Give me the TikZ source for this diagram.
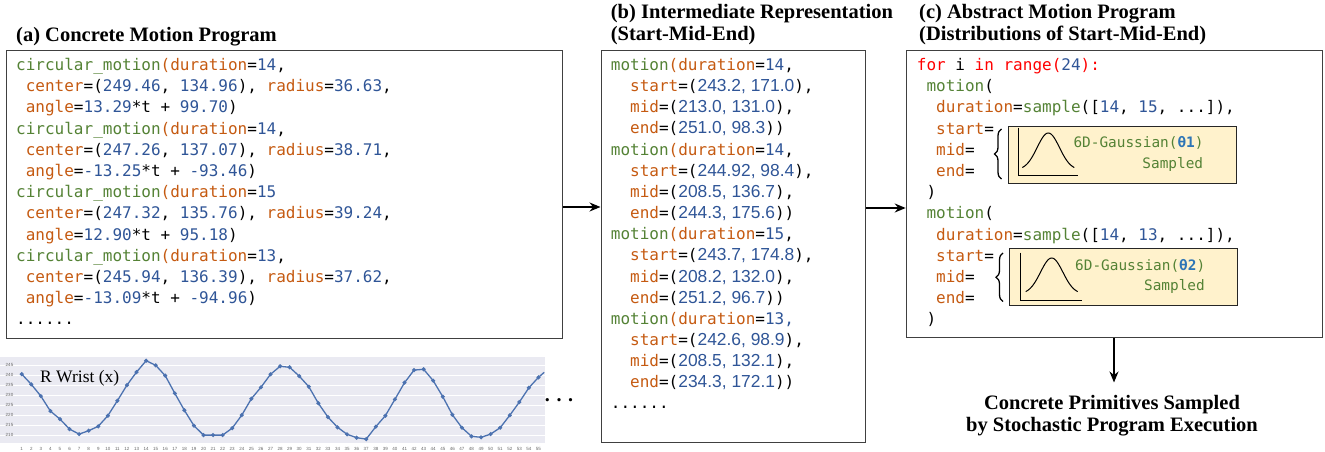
\documentclass[tikz,border=0pt]{standalone}
\usepackage{fontspec}
\setmainfont{Liberation Serif}
\newfontfamily\codefont{DejaVu Sans Mono}
\newfontfamily\numfont{Liberation Sans}
\newfontfamily\tickfont{Liberation Sans}
\usetikzlibrary{arrows.meta,decorations.pathreplacing,calc}
\definecolor{cfn}{HTML}{548235}
\definecolor{ckw}{HTML}{C55A11}
\definecolor{cnum}{HTML}{2F5597}
\definecolor{cred}{HTML}{FF0000}
\definecolor{ctheta}{HTML}{2E75B6}
\definecolor{cybox}{HTML}{FFF2CC}
\definecolor{cplotbg}{HTML}{EAEAF2}
\definecolor{cline}{HTML}{4C72B0}
\newcommand\Fn[1]{\textcolor{cfn}{#1}}
\newcommand\Kw[1]{\textcolor{ckw}{#1}}
\newcommand\Nm[1]{\textcolor{cnum}{#1}}
\newcommand\Rd[1]{\textcolor{cred}{#1}}
\newcommand\Sn[1]{\textcolor{cnum}{\numfont\fontsize{17.4}{19}\selectfont #1}}
\newcommand\ind{\hphantom{x}}
\tikzset{
  code/.style={anchor=base west, inner sep=0pt, font=\codefont\fontsize{16}{19}\selectfont},
  small/.style={inner sep=0pt, font=\codefont\fontsize{14.4}{17}\selectfont, text=cfn},
  box/.style={draw=black!75, line width=1.2pt, inner sep=0pt, anchor=north west},
  ybox/.style={draw=black!85, fill=cybox, line width=1pt, inner sep=0pt, anchor=north west},
  ttl/.style={inner sep=0pt, font=\bfseries\fontsize{20.5}{23}\selectfont},
  tick/.style={inner sep=0pt, font=\tickfont\fontsize{4.5}{5}\selectfont, text=black!60},
  arr/.style={-{Stealth[length=11pt,width=9pt]}, line width=1.6pt},
  bracestyle/.style={decorate, decoration={brace, amplitude=7pt}, line width=1.3pt},
}
\begin{document}
\begin{tikzpicture}[x=1pt,y=-1pt]
\useasboundingbox (0,0) rectangle (1325,452);

% ---------- titles
\node[ttl, anchor=base west] (ta) at (16,42) {(a) Concrete Motion Program};
\node[ttl, anchor=base west] (tb1) at (610.7,18.5) {(b) Intermediate Representation};
\node[ttl, anchor=base west] (tb2) at (610.7,40.5) {(Start-Mid-End)};
\node[ttl, anchor=base west] (tc1) at (919,18.5) {(c) Abstract Motion Program};
\node[ttl, anchor=base west] (tc2) at (919,40.5) {(Distributions of Start-Mid-End)};

% ---------- boxes
\node[box, minimum width=556pt, minimum height=287.5pt] (boxA) at (6,50) {};
\node[box, minimum width=264.5pt, minimum height=391.7pt] (boxB) at (600.5,50) {};
\node[box, minimum width=416pt, minimum height=286.7pt] (boxC) at (905.7,50) {};

% ---------- (a) code
\node[code] (a1) at (16,70.5) {\Fn{circular\_motion}\Kw{(duration}=\Nm{14},};
\node[code] (a2) at (16,91.7) {\ind\Kw{center}=(\Nm{249.46}, \Nm{134.96}), \Kw{radius}=\Nm{36.63},};
\node[code] (a3) at (16,112.9) {\ind\Kw{angle}=\Nm{13.29}*t + \Nm{99.70})};
\node[code] (a4) at (16,134.1) {\Fn{circular\_motion}\Kw{(duration}=\Nm{14},};
\node[code] (a5) at (16,155.3) {\ind\Kw{center}=(\Nm{247.26}, \Nm{137.07}), \Kw{radius}=\Nm{38.71},};
\node[code] (a6) at (16,176.5) {\ind\Kw{angle}=\Nm{-13.25}*t + \Nm{-93.46})};
\node[code] (a7) at (16,197.7) {\Fn{circular\_motion}\Kw{(duration}=\Nm{15}};
\node[code] (a8) at (16,218.9) {\ind\Kw{center}=(\Nm{247.32}, \Nm{135.76}), \Kw{radius}=\Nm{39.24},};
\node[code] (a9) at (16,240.1) {\ind\Kw{angle}=\Nm{12.90}*t + \Nm{95.18})};
\node[code] (a10) at (16,261.3) {\Fn{circular\_motion}\Kw{(duration}=\Nm{13},};
\node[code] (a11) at (16,282.5) {\ind\Kw{center}=(\Nm{245.94}, \Nm{136.39}), \Kw{radius}=\Nm{37.62},};
\node[code] (a12) at (16,303.7) {\ind\Kw{angle}=\Nm{-13.09}*t + \Nm{-94.96})};
\node[code] (a13) at (16,324.9) {......};

% ---------- (b) code
\node[code] (b1) at (610.7,70.5) {\Fn{motion}\Kw{(duration}=\Nm{14},};
\node[code] (b2) at (610.7,91.65) {\ind\ind\Kw{start}=(\Sn{243.2, 171.0}),};
\node[code] (b3) at (610.7,112.8) {\ind\ind\Kw{mid}=(\Sn{213.0, 131.0}),};
\node[code] (b4) at (610.7,133.95) {\ind\ind\Kw{end}=(\Sn{251.0, 98.3}))};
\node[code] (b5) at (610.7,155.1) {\Fn{motion}\Kw{(duration}=\Nm{14},};
\node[code] (b6) at (610.7,176.25) {\ind\ind\Kw{start}=(\Sn{244.92, 98.4}),};
\node[code] (b7) at (610.7,197.4) {\ind\ind\Kw{mid}=(\Sn{208.5, 136.7}),};
\node[code] (b8) at (610.7,218.55) {\ind\ind\Kw{end}=(\Sn{244.3, 175.6}))};
\node[code] (b9) at (610.7,239.7) {\Fn{motion}\Kw{(duration}=\Nm{15},};
\node[code] (b10) at (610.7,260.85) {\ind\ind\Kw{start}=(\Sn{243.7, 174.8}),};
\node[code] (b11) at (610.7,282) {\ind\ind\Kw{mid}=(\Sn{208.2, 132.0}),};
\node[code] (b12) at (610.7,303.15) {\ind\ind\Kw{end}=(\Sn{251.2, 96.7}))};
\node[code] (b13) at (610.7,324.3) {\Fn{motion}\Kw{(duration}=\Nm{13,}};
\node[code] (b14) at (610.7,345.45) {\ind\ind\Kw{start}=(\Sn{242.6, 98.9}),};
\node[code] (b15) at (610.7,366.6) {\ind\ind\Kw{mid}=(\Sn{208.5, 132.1}),};
\node[code] (b16) at (610.7,387.75) {\ind\ind\Kw{end}=(\Sn{234.3, 172.1}))};
\node[code] (b17) at (610.7,408.4) {......};

% ---------- (c) yellow boxes with gaussians
\node[ybox, minimum width=228.4pt, minimum height=57pt] (y1) at (1007.5,125.7) {};
\node[ybox, minimum width=228.4pt, minimum height=57pt] (y2) at (1008.8,248.3) {};
\draw[line width=1pt] (1018.3,127.7) -- (1018.3,175.7) -- (1078.3,175.7);
\draw[line width=1pt] plot[domain=-26:26, samples=61, smooth] ({1048.3+\x},{170-37*exp(-(\x*\x)/250)});
\draw[line width=1pt] (1020.7,252.7) -- (1020.7,300) -- (1081.7,300);
\draw[line width=1pt] plot[domain=-26:26, samples=61, smooth] ({1051.7+\x},{294-36*exp(-(\x*\x)/250)});
\node[small, anchor=base west] (g1) at (1073.3,147.5) {6D-Gaussian(\textcolor{ctheta}{\bfseries θ1})};
\node[small, anchor=base east] (s1) at (1203.3,168) {Sampled};
\node[small, anchor=base west] (g2) at (1075,270.8) {6D-Gaussian(\textcolor{ctheta}{\bfseries θ2})};
\node[small, anchor=base east] (s2) at (1205,290.5) {Sampled};
\draw[bracestyle] (1001.5,179) -- (1001.5,129);
\draw[bracestyle] (1003,301.5) -- (1003,253);

% ---------- (c) code
\node[code] (c1) at (916.7,70.5) {\Rd{for} i \Rd{in range(}\Nm{24}\Rd{):}};
\node[code] (c2) at (916.7,91.7) {\ind\Fn{motion}(};
\node[code] (c3) at (916.7,112.9) {\ind\ind\Kw{duration}=\Fn{sample}([\Nm{14}, \Nm{15}, ...]),};
\node[code] (c4) at (916.7,134.1) {\ind\ind\Kw{start}=};
\node[code] (c5) at (916.7,155.3) {\ind\ind\Kw{mid}=};
\node[code] (c6) at (916.7,176.5) {\ind\ind\Kw{end}=};
\node[code] (c7) at (916.7,197.7) {\ind)};
\node[code] (c8) at (916.7,218.9) {\ind\Fn{motion}(};
\node[code] (c9) at (916.7,240.1) {\ind\ind\Kw{duration}=\Fn{sample}([\Nm{14}, \Nm{13}, ...]),};
\node[code] (c10) at (916.7,261.3) {\ind\ind\Kw{start}=};
\node[code] (c11) at (916.7,282.5) {\ind\ind\Kw{mid}=};
\node[code] (c12) at (916.7,303.7) {\ind\ind\Kw{end}=};
\node[code] (c13) at (916.7,324.9) {\ind)};

% ---------- arrows
\coordinate (abY) at (0,207);
\coordinate (bcY) at (0,208);
\coordinate (downEnd) at (1114,382.5);
\draw[arr] (boxA.east |- abY) -- (boxB.west |- abY);
\draw[arr] (boxB.east |- bcY) -- (boxC.west |- bcY);
\draw[arr] (boxC.south -| downEnd) -- (downEnd);

% ---------- result text
\node[ttl, anchor=base] (res1) at (1112,409.3) {Concrete Primitives Sampled};
\node[ttl, anchor=base] (res2) at (1112,431.7) {by Stochastic Program Execution};

% ---------- chart
\fill[cplotbg] (0,357) rectangle (544.5,443);
\foreach \v in {210,215,...,245}
  \draw[white, line width=0.8pt] (0,{435.3-(\v-210)*2}) -- (544.5,{435.3-(\v-210)*2});
\foreach \v in {210,215,...,245}
  \node[tick] (yt\v) at (9.5,{435.3-(\v-210)*2}) {\v};
\foreach \i in {1,...,55}
  \node[tick] (xt\i) at ({21.7+(\i-1)*9.57},448.5) {\i};
\begin{scope}[shift={(12.13,855.3)}, x=9.57pt, y=2pt]
\draw[cline, line width=1.3pt, mark=*, mark size=1.3pt, mark options={fill=cline}, mark indices={1,...,55}]
  plot coordinates {(1,240.6) (2,235.5) (3,229.6) (4,222.1) (5,218.1) (6,213.1) (7,210.6) (8,212.3) (9,214.5) (10,219.8)
  (11,227.3) (12,235.1) (13,241.6) (14,247.3) (15,245) (16,239.8) (17,231) (18,222.5) (19,214.8) (20,210.1)
  (21,210.1) (22,210.1) (23,213.6) (24,220.1) (25,228.3) (26,234) (27,240.5) (28,244.5) (29,244) (30,239.6)
  (31,234.3) (32,226) (33,219.1) (34,214) (35,210.5) (36,208.8) (37,208.1) (38,214.3) (39,219.8) (40,228)
  (41,236.3) (42,242.6) (43,243) (44,237.3) (45,229.3) (46,220.3) (47,213.8) (48,209.5) (49,209) (50,210.6)
  (51,213.8) (52,220) (53,226.6) (54,233.8) (55,239) (55.6,241.5)};
\end{scope}
\node[anchor=base west, inner sep=0pt, font=\fontsize{17.5}{20}\selectfont] (rw) at (40,382) {R Wrist (x)};
\node[anchor=base, inner sep=0pt, font=\bfseries\fontsize{20}{22}\selectfont] (dots) at (559,401.5) {. . .};
\end{tikzpicture}
\end{document}
